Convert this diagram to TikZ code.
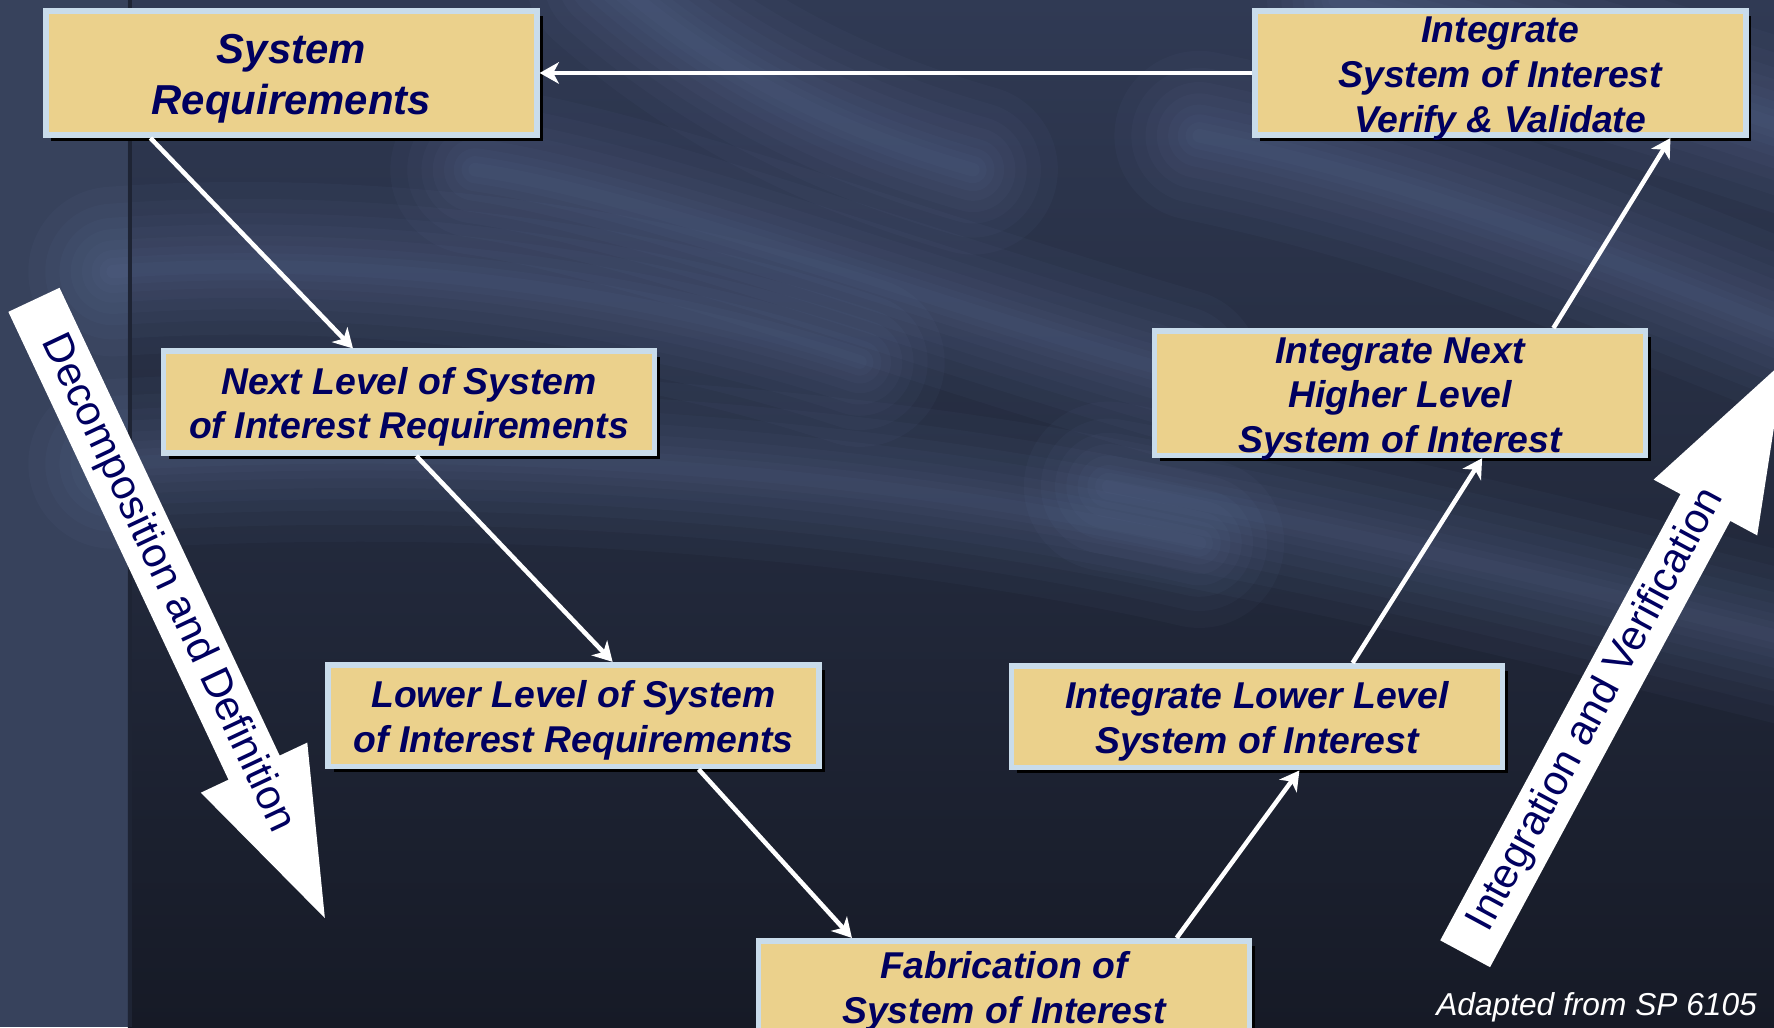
\documentclass[tikz,border=0pt]{standalone}
\usepackage{fontspec}
\setmainfont{Liberation Sans}
\usetikzlibrary{arrows.meta, positioning, shadows}

\definecolor{boxfill}{RGB}{235,209,140}
\definecolor{boxrim}{RGB}{201,220,235}
\definecolor{boxtext}{RGB}{0,0,96}
\definecolor{slate}{RGB}{55,66,92}
\definecolor{wisp}{RGB}{125,145,195}

\newcommand{\wispband}[1]{%
  \foreach \w in {150,120,95,75,55,38,24,12}
    {\draw[draw=wisp, line width=\w pt, opacity=0.045, line cap=round] #1;}}

\begin{document}
\begin{tikzpicture}[x=1pt, y=1pt, >=Stealth,
    box/.style={rectangle, draw=boxrim, line width=5pt, fill=boxfill, text=boxtext,
                minimum width=434pt, inner sep=0pt, align=center,
                font=\fontsize{33}{39.5}\selectfont\bfseries\itshape,
                drop shadow={shadow xshift=5pt, shadow yshift=-5pt, fill=black, opacity=1}},
    tallbox/.style={box, minimum height=110pt, text height=105pt, text depth=0pt},
    flatbox/.style={box, minimum height=90pt, text height=71.5pt},
    conn/.style={draw=white, line width=4pt, -{Stealth[length=17pt, width=19pt, inset=5pt]}},
    bigtext/.style={text=boxtext, inner sep=0pt, font=\fontsize{37}{44}\selectfont}]

    \useasboundingbox (0,0) rectangle (1568,-908);
    \clip (0,0) rectangle (1568,-908);

    % background
    \fill[slate] (0,0) rectangle (113,-908);
    \shade[top color={rgb,255:red,48;green,58;blue,84}, middle color={rgb,255:red,44;green,53;blue,78},
           bottom color={rgb,255:red,22;green,26;blue,38}] (113,0) rectangle (1568,-908);
    \wispband{(100,-240) .. controls (300,-225) and (550,-250) .. (760,-320)}
    \wispband{(540,20) .. controls (620,-50) and (720,-110) .. (860,-150)}
    \wispband{(420,-150) .. controls (560,-170) and (800,-260) .. (1040,-330)}
    \wispband{(100,-410) .. controls (450,-390) and (800,-420) .. (1060,-480)}
    \wispband{(1060,-120) .. controls (1250,-160) and (1400,-220) .. (1600,-300)}
    \wispband{(980,-430) .. controls (1200,-470) and (1400,-520) .. (1600,-570)}
    \wispband{(1180,0) .. controls (1350,-40) and (1480,-80) .. (1600,-120)}
    \draw[draw={rgb,255:red,30;green,36;blue,52}, line width=4pt] (115,0) -- (115,-908);

    % V boxes
    \node[box, minimum height=110pt, text height=81.5pt,
          font=\fontsize{37}{45}\selectfont\bfseries\itshape] (sysreq) at (257.5,-64.5)
        {System\\Requirements};
    \node[flatbox, below=186pt of sysreq, xshift=104pt] (nextlvl)
        {Next Level of System\\of Interest Requirements};
    \node[flatbox, below=182pt of nextlvl, xshift=145.5pt] (lowerlvl)
        {Lower Level of System\\of Interest Requirements};
    \node[flatbox, text height=63pt, below=149pt of lowerlvl, xshift=380.5pt] (fab)
        {Fabrication of\\System of Interest};
    \node[flatbox, above=148pt of fab, xshift=223.5pt] (intlower)
        {Integrate Lower Level\\System of Interest};
    \node[tallbox, above=181pt of intlower, xshift=126.5pt] (intnext)
        {Integrate Next\\Higher Level\\System of Interest};
    \node[tallbox, above=168pt of intnext, xshift=88.5pt] (intsoi)
        {Integrate\\System of Interest\\Verify \& Validate};

    \draw[conn] (intsoi) -- (sysreq);
    \draw[conn] ([xshift=95pt]sysreq.south west) -- ([xshift=170pt]nextlvl.north west);
    \draw[conn] ([xshift=226pt]nextlvl.south west) -- ([xshift=254pt]lowerlvl.north west);
    \draw[conn] ([xshift=330pt]lowerlvl.south west) -- ([xshift=85pt]fab.north west);
    \draw[conn] ([xshift=372pt]fab.north west) -- ([xshift=257pt]intlower.south west);
    \draw[conn] ([xshift=304pt]intlower.north west) -- ([xshift=292pt]intnext.south west);
    \draw[conn] ([xshift=355pt]intnext.north west) -- ([xshift=370pt]intsoi.south west);

    % big side arrows
    \begin{scope}[shift={(30,-265)}, rotate=-64.8]
        \fill[white] (0,25) -- (457,25) -- (457,52) -- (604,0) -- (457,-52) -- (457,-25) -- (0,-25) -- cycle;
        \node[bigtext, rotate=-64.8] (decomp) at (277,0) {Decomposition and Definition};
    \end{scope}
    \begin{scope}[shift={(1295,-843)}, rotate=61.7]
        \fill[white] (0,25) -- (448,25) -- (448,52) -- (595,0) -- (448,-52) -- (448,-25) -- (0,-25) -- cycle;
        \node[bigtext, rotate=61.7] (integ) at (245,0) {Integration and Verification};
    \end{scope}

    \node[anchor=base east, text=white, inner sep=0pt, font=\fontsize{28}{34}\selectfont\itshape]
        (credit) at (1553,-898) {Adapted from SP 6105};
\end{tikzpicture}
\end{document}
